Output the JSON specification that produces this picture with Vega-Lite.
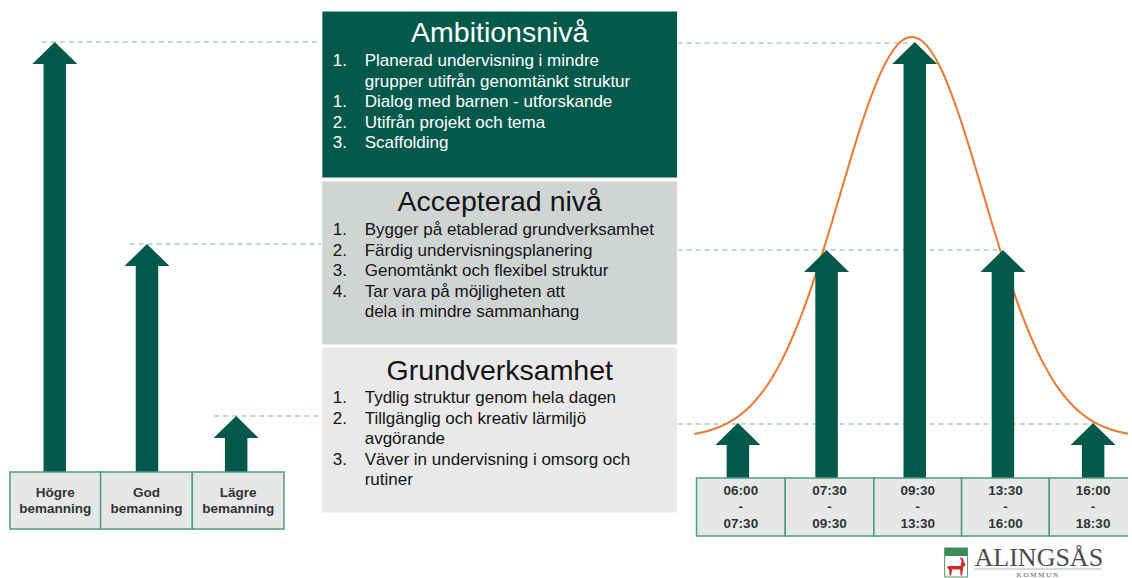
{
  "$schema": "https://vega.github.io/schema/vega-lite/v6.json",
  "width": 1132,
  "height": 578,
  "autosize": {"type": "fit", "contains": "padding"},
  "padding": 0,
  "background": "#ffffff",
  "config": {"view": {"stroke": null}, "font": "Liberation Sans"},
  "datasets": {
    "streck": [
      {"från": 42, "till": 323, "nivå": 42},
      {"från": 130, "till": 323, "nivå": 244},
      {"från": 215, "till": 323, "nivå": 416},
      {"från": 680, "till": 912, "nivå": 43},
      {"från": 680, "till": 1005, "nivå": 250},
      {"från": 680, "till": 1098, "nivå": 424}
    ],
    "kurva": [
      {"tid": 697, "behov": 433.9}, {"tid": 705, "behov": 432.3}, {"tid": 715, "behov": 429.5},
      {"tid": 725, "behov": 425.7}, {"tid": 735, "behov": 420.4}, {"tid": 745, "behov": 413.3},
      {"tid": 755, "behov": 404.0}, {"tid": 765, "behov": 392.2}, {"tid": 775, "behov": 377.4},
      {"tid": 785, "behov": 359.4}, {"tid": 795, "behov": 338.0}, {"tid": 805, "behov": 313.2},
      {"tid": 815, "behov": 285.1}, {"tid": 825, "behov": 254.4}, {"tid": 835, "behov": 221.7},
      {"tid": 845, "behov": 188.0}, {"tid": 855, "behov": 154.6}, {"tid": 865, "behov": 122.9},
      {"tid": 875, "behov": 94.4}, {"tid": 885, "behov": 70.3}, {"tid": 890, "behov": 60.5},
      {"tid": 895, "behov": 52.2}, {"tid": 900, "behov": 45.6}, {"tid": 905, "behov": 40.8},
      {"tid": 910, "behov": 38.0}, {"tid": 915, "behov": 37.0}, {"tid": 920, "behov": 38.0},
      {"tid": 925, "behov": 40.8}, {"tid": 930, "behov": 45.6}, {"tid": 935, "behov": 52.2},
      {"tid": 940, "behov": 60.5}, {"tid": 945, "behov": 70.3}, {"tid": 955, "behov": 94.4},
      {"tid": 965, "behov": 122.9}, {"tid": 975, "behov": 154.6}, {"tid": 985, "behov": 188.0},
      {"tid": 995, "behov": 221.7}, {"tid": 1005, "behov": 254.4}, {"tid": 1015, "behov": 285.1},
      {"tid": 1025, "behov": 313.2}, {"tid": 1035, "behov": 338.0}, {"tid": 1045, "behov": 359.4},
      {"tid": 1055, "behov": 377.4}, {"tid": 1065, "behov": 392.2}, {"tid": 1075, "behov": 404.0},
      {"tid": 1085, "behov": 413.3}, {"tid": 1095, "behov": 420.4}, {"tid": 1105, "behov": 425.7},
      {"tid": 1115, "behov": 429.5}, {"tid": 1125, "behov": 432.3}, {"tid": 1132, "behov": 433.7}
    ],
    "rutor": [
      {"nivå": "Ambitionsnivå", "vänster": 323, "höger": 680, "topp": 11, "botten": 178},
      {"nivå": "Accepterad nivå", "vänster": 323, "höger": 680, "topp": 181, "botten": 345},
      {"nivå": "Grundverksamhet", "vänster": 323, "höger": 680, "topp": 347, "botten": 513}
    ],
    "rubriker": [
      {"nivå": "Ambitionsnivå", "text": "Ambitionsnivå", "mitt": 501.5, "rad": 42},
      {"nivå": "Accepterad nivå", "text": "Accepterad nivå", "mitt": 501.5, "rad": 211},
      {"nivå": "Grundverksamhet", "text": "Grundverksamhet", "mitt": 501.5, "rad": 380}
    ],
    "punkter": [
      {"nivå": "Ambitionsnivå", "nr": "1.", "text": "Planerad undervisning  i mindre", "rad": 66},
      {"nivå": "Ambitionsnivå", "nr": "", "text": "grupper  utifrån genomtänkt  struktur", "rad": 86.5},
      {"nivå": "Ambitionsnivå", "nr": "1.", "text": "Dialog med barnen - utforskande", "rad": 107},
      {"nivå": "Ambitionsnivå", "nr": "2.", "text": "Utifrån projekt och tema", "rad": 127.5},
      {"nivå": "Ambitionsnivå", "nr": "3.", "text": "Scaffolding", "rad": 148},
      {"nivå": "Accepterad nivå", "nr": "1.", "text": "Bygger på etablerad grundverksamhet", "rad": 235},
      {"nivå": "Accepterad nivå", "nr": "2.", "text": "Färdig undervisningsplanering", "rad": 256},
      {"nivå": "Accepterad nivå", "nr": "3.", "text": "Genomtänkt  och flexibel struktur", "rad": 276},
      {"nivå": "Accepterad nivå", "nr": "4.", "text": "Tar vara på möjligheten  att", "rad": 297},
      {"nivå": "Accepterad nivå", "nr": "", "text": "dela  in mindre  sammanhang", "rad": 317},
      {"nivå": "Grundverksamhet", "nr": "1.", "text": "Tydlig  struktur genom hela dagen", "rad": 403},
      {"nivå": "Grundverksamhet", "nr": "2.", "text": "Tillgänglig  och kreativ lärmiljö", "rad": 424},
      {"nivå": "Grundverksamhet", "nr": "", "text": "avgörande", "rad": 444},
      {"nivå": "Grundverksamhet", "nr": "3.", "text": "Väver in undervisning  i omsorg och", "rad": 465},
      {"nivå": "Grundverksamhet", "nr": "", "text": "rutiner", "rad": 485}
    ],
    "pilar": [
      {"kategori": "Högre bemanning", "mitt": 55, "nivå": 42, "bas": 472},
      {"kategori": "God bemanning", "mitt": 147.5, "nivå": 244, "bas": 472},
      {"kategori": "Lägre bemanning", "mitt": 237, "nivå": 416, "bas": 472},
      {"kategori": "06:00-07:30", "mitt": 740.5, "nivå": 423, "bas": 478},
      {"kategori": "07:30-09:30", "mitt": 829.5, "nivå": 250, "bas": 478},
      {"kategori": "09:30-13:30", "mitt": 918, "nivå": 42, "bas": 478},
      {"kategori": "13:30-16:00", "mitt": 1006.5, "nivå": 250, "bas": 478},
      {"kategori": "16:00-18:30", "mitt": 1097, "nivå": 423, "bas": 478}
    ],
    "celler": [
      {"kategori": "Högre bemanning", "vänster": 10, "höger": 101, "topp": 472, "botten": 529},
      {"kategori": "God bemanning", "vänster": 101, "höger": 193, "topp": 472, "botten": 529},
      {"kategori": "Lägre bemanning", "vänster": 193, "höger": 285, "topp": 472, "botten": 529},
      {"kategori": "06:00-07:30", "vänster": 699, "höger": 788, "topp": 478, "botten": 536},
      {"kategori": "07:30-09:30", "vänster": 788, "höger": 877, "topp": 478, "botten": 536},
      {"kategori": "09:30-13:30", "vänster": 877, "höger": 965, "topp": 478, "botten": 536},
      {"kategori": "13:30-16:00", "vänster": 965, "höger": 1053, "topp": 478, "botten": 536},
      {"kategori": "16:00-18:30", "vänster": 1053, "höger": 1142, "topp": 478, "botten": 536}
    ],
    "etiketter": [
      {"text": "Högre", "mitt": 55.5, "rad": 493}, {"text": "bemanning", "mitt": 55.5, "rad": 509},
      {"text": "God", "mitt": 147, "rad": 493}, {"text": "bemanning", "mitt": 147, "rad": 509},
      {"text": "Lägre", "mitt": 239, "rad": 493}, {"text": "bemanning", "mitt": 239, "rad": 509},
      {"text": "06:00", "mitt": 743.5, "rad": 491}, {"text": "-", "mitt": 743.5, "rad": 507}, {"text": "07:30", "mitt": 743.5, "rad": 524},
      {"text": "07:30", "mitt": 832.5, "rad": 491}, {"text": "-", "mitt": 832.5, "rad": 507}, {"text": "09:30", "mitt": 832.5, "rad": 524},
      {"text": "09:30", "mitt": 921, "rad": 491}, {"text": "-", "mitt": 921, "rad": 507}, {"text": "13:30", "mitt": 921, "rad": 524},
      {"text": "13:30", "mitt": 1009, "rad": 491}, {"text": "-", "mitt": 1009, "rad": 507}, {"text": "16:00", "mitt": 1009, "rad": 524},
      {"text": "16:00", "mitt": 1097, "rad": 491}, {"text": "-", "mitt": 1097, "rad": 507}, {"text": "18:30", "mitt": 1097, "rad": 524}
    ],
    "logga": [
      {"del": "vapen", "vänster": 948, "höger": 971, "topp": 548, "botten": 577}
    ]
  },
  "layer": [
    {
      "data": {"name": "streck"},
      "mark": {"type": "rule", "color": "#7db6ab", "strokeWidth": 1.2, "strokeDash": [5, 4]},
      "encoding": {
        "x": {"field": "från", "type": "quantitative", "scale": {"domain": [0, 1132], "nice": false, "zero": false}, "axis": null},
        "x2": {"field": "till"},
        "y": {"field": "nivå", "type": "quantitative", "scale": {"domain": [0, 578], "nice": false, "zero": false, "reverse": true}, "axis": null}
      }
    },
    {
      "data": {"name": "kurva"},
      "mark": {"type": "line", "color": "#f07830", "strokeWidth": 2, "interpolate": "monotone"},
      "encoding": {
        "x": {"field": "tid", "type": "quantitative", "axis": null},
        "y": {"field": "behov", "type": "quantitative", "axis": null}
      }
    },
    {
      "data": {"name": "rutor"},
      "mark": {"type": "rect", "stroke": "#ffffff", "strokeWidth": 1},
      "encoding": {
        "x": {"field": "vänster", "type": "quantitative", "axis": null},
        "x2": {"field": "höger"},
        "y": {"field": "topp", "type": "quantitative", "axis": null},
        "y2": {"field": "botten"},
        "fill": {"field": "nivå", "type": "nominal", "scale": {"domain": ["Ambitionsnivå", "Accepterad nivå", "Grundverksamhet"], "range": ["#04594b", "#d0d5d4", "#e8e9e8"]}, "legend": null}
      }
    },
    {
      "data": {"name": "pilar"},
      "mark": {"type": "rule", "color": "#04594b", "strokeWidth": 22.5, "strokeCap": "butt", "yOffset": 20},
      "encoding": {
        "x": {"field": "mitt", "type": "quantitative", "axis": null},
        "y": {"field": "nivå", "type": "quantitative", "axis": null},
        "y2": {"field": "bas"}
      }
    },
    {
      "data": {"name": "pilar"},
      "mark": {"type": "point", "shape": "M0,0L1,0.98L-1,0.98Z", "size": 2025, "filled": true, "opacity": 1, "color": "#04594b", "strokeWidth": 0},
      "encoding": {
        "x": {"field": "mitt", "type": "quantitative", "axis": null},
        "y": {"field": "nivå", "type": "quantitative", "axis": null}
      }
    },
    {
      "data": {"name": "celler"},
      "mark": {"type": "rect", "fill": "#e6e8e7", "stroke": "#4f9b8a", "strokeWidth": 1.5, "clip": true},
      "encoding": {
        "x": {"field": "vänster", "type": "quantitative", "axis": null},
        "x2": {"field": "höger"},
        "y": {"field": "topp", "type": "quantitative", "axis": null},
        "y2": {"field": "botten"}
      }
    },
    {
      "data": {"name": "etiketter"},
      "mark": {"type": "text", "font": "Liberation Sans", "fontSize": 13.5, "fontWeight": "bold", "color": "#333333", "align": "center", "baseline": "middle"},
      "encoding": {
        "x": {"field": "mitt", "type": "quantitative", "axis": null},
        "y": {"field": "rad", "type": "quantitative", "axis": null},
        "text": {"field": "text"}
      }
    },
    {
      "data": {"name": "rubriker"},
      "mark": {"type": "text", "font": "Liberation Sans", "fontSize": 28.5, "align": "center", "baseline": "alphabetic"},
      "encoding": {
        "x": {"field": "mitt", "type": "quantitative", "axis": null},
        "y": {"field": "rad", "type": "quantitative", "axis": null},
        "text": {"field": "text"},
        "color": {"field": "nivå", "type": "nominal", "scale": {"domain": ["Ambitionsnivå", "Accepterad nivå", "Grundverksamhet"], "range": ["#ffffff", "#141414", "#141414"]}, "legend": null}
      }
    },
    {
      "data": {"name": "punkter"},
      "mark": {"type": "text", "font": "Liberation Sans", "fontSize": 17, "align": "left", "baseline": "alphabetic"},
      "encoding": {
        "x": {"datum": 334, "type": "quantitative", "axis": null},
        "y": {"field": "rad", "type": "quantitative", "axis": null},
        "text": {"field": "nr"},
        "color": {"field": "nivå", "type": "nominal", "legend": null}
      }
    },
    {
      "data": {"name": "punkter"},
      "mark": {"type": "text", "font": "Liberation Sans", "fontSize": 17, "align": "left", "baseline": "alphabetic"},
      "encoding": {
        "x": {"datum": 366, "type": "quantitative", "axis": null},
        "y": {"field": "rad", "type": "quantitative", "axis": null},
        "text": {"field": "text"},
        "color": {"field": "nivå", "type": "nominal", "legend": null}
      }
    },
    {
      "data": {"values": [{"namn": "ALINGSÅS", "vänster": 978, "rad": 566}]},
      "mark": {"type": "text", "font": "Liberation Serif", "fontSize": 26, "color": "#4d4d4d", "align": "left", "baseline": "alphabetic"},
      "encoding": {
        "x": {"field": "vänster", "type": "quantitative", "axis": null},
        "y": {"field": "rad", "type": "quantitative", "axis": null},
        "text": {"field": "namn"}
      }
    },
    {
      "data": {"values": [{"från": 978, "till": 1105, "rad": 569}]},
      "mark": {"type": "rule", "color": "#a9b8b4", "strokeWidth": 1},
      "encoding": {
        "x": {"field": "från", "type": "quantitative", "axis": null},
        "x2": {"field": "till"},
        "y": {"field": "rad", "type": "quantitative", "axis": null}
      }
    },
    {
      "data": {"values": [{"namn": "K O M M U N", "mitt": 1041, "rad": 577}]},
      "mark": {"type": "text", "font": "Liberation Serif", "fontSize": 7, "color": "#555555", "align": "center", "baseline": "alphabetic"},
      "encoding": {
        "x": {"field": "mitt", "type": "quantitative", "axis": null},
        "y": {"field": "rad", "type": "quantitative", "axis": null},
        "text": {"field": "namn"}
      }
    },
    {
      "data": {"name": "logga"},
      "mark": {"type": "rect", "fill": "#ffffff", "stroke": "#4f9b6a", "strokeWidth": 1, "clip": true},
      "encoding": {
        "x": {"field": "vänster", "type": "quantitative", "axis": null},
        "x2": {"field": "höger"},
        "y": {"field": "topp", "type": "quantitative", "axis": null},
        "y2": {"field": "botten"}
      }
    },
    {
      "data": {"values": [{"vänster": 948, "höger": 971, "topp": 548, "botten": 556}]},
      "mark": {"type": "rect", "fill": "#3f8a5a"},
      "encoding": {
        "x": {"field": "vänster", "type": "quantitative", "axis": null},
        "x2": {"field": "höger"},
        "y": {"field": "topp", "type": "quantitative", "axis": null},
        "y2": {"field": "botten"}
      }
    },
    {
      "data": {"values": [{"mitt": 959.5, "rad": 567}]},
      "mark": {"type": "point", "shape": "M-0.7,-0.1L0.45,-0.1L0.55,-0.6L0.35,-0.95L0.65,-0.9L0.8,-0.5L0.95,-0.2L0.7,0L0.6,0.85L0.45,0.85L0.4,0.25L-0.4,0.25L-0.5,0.85L-0.65,0.85L-0.7,0.25L-0.95,0.05Z", "size": 400, "filled": true, "opacity": 1, "color": "#d62a2a", "strokeWidth": 0},
      "encoding": {
        "x": {"field": "mitt", "type": "quantitative", "axis": null},
        "y": {"field": "rad", "type": "quantitative", "axis": null}
      }
    }
  ],
  "resolve": {"scale": {"color": "shared"}}
}
